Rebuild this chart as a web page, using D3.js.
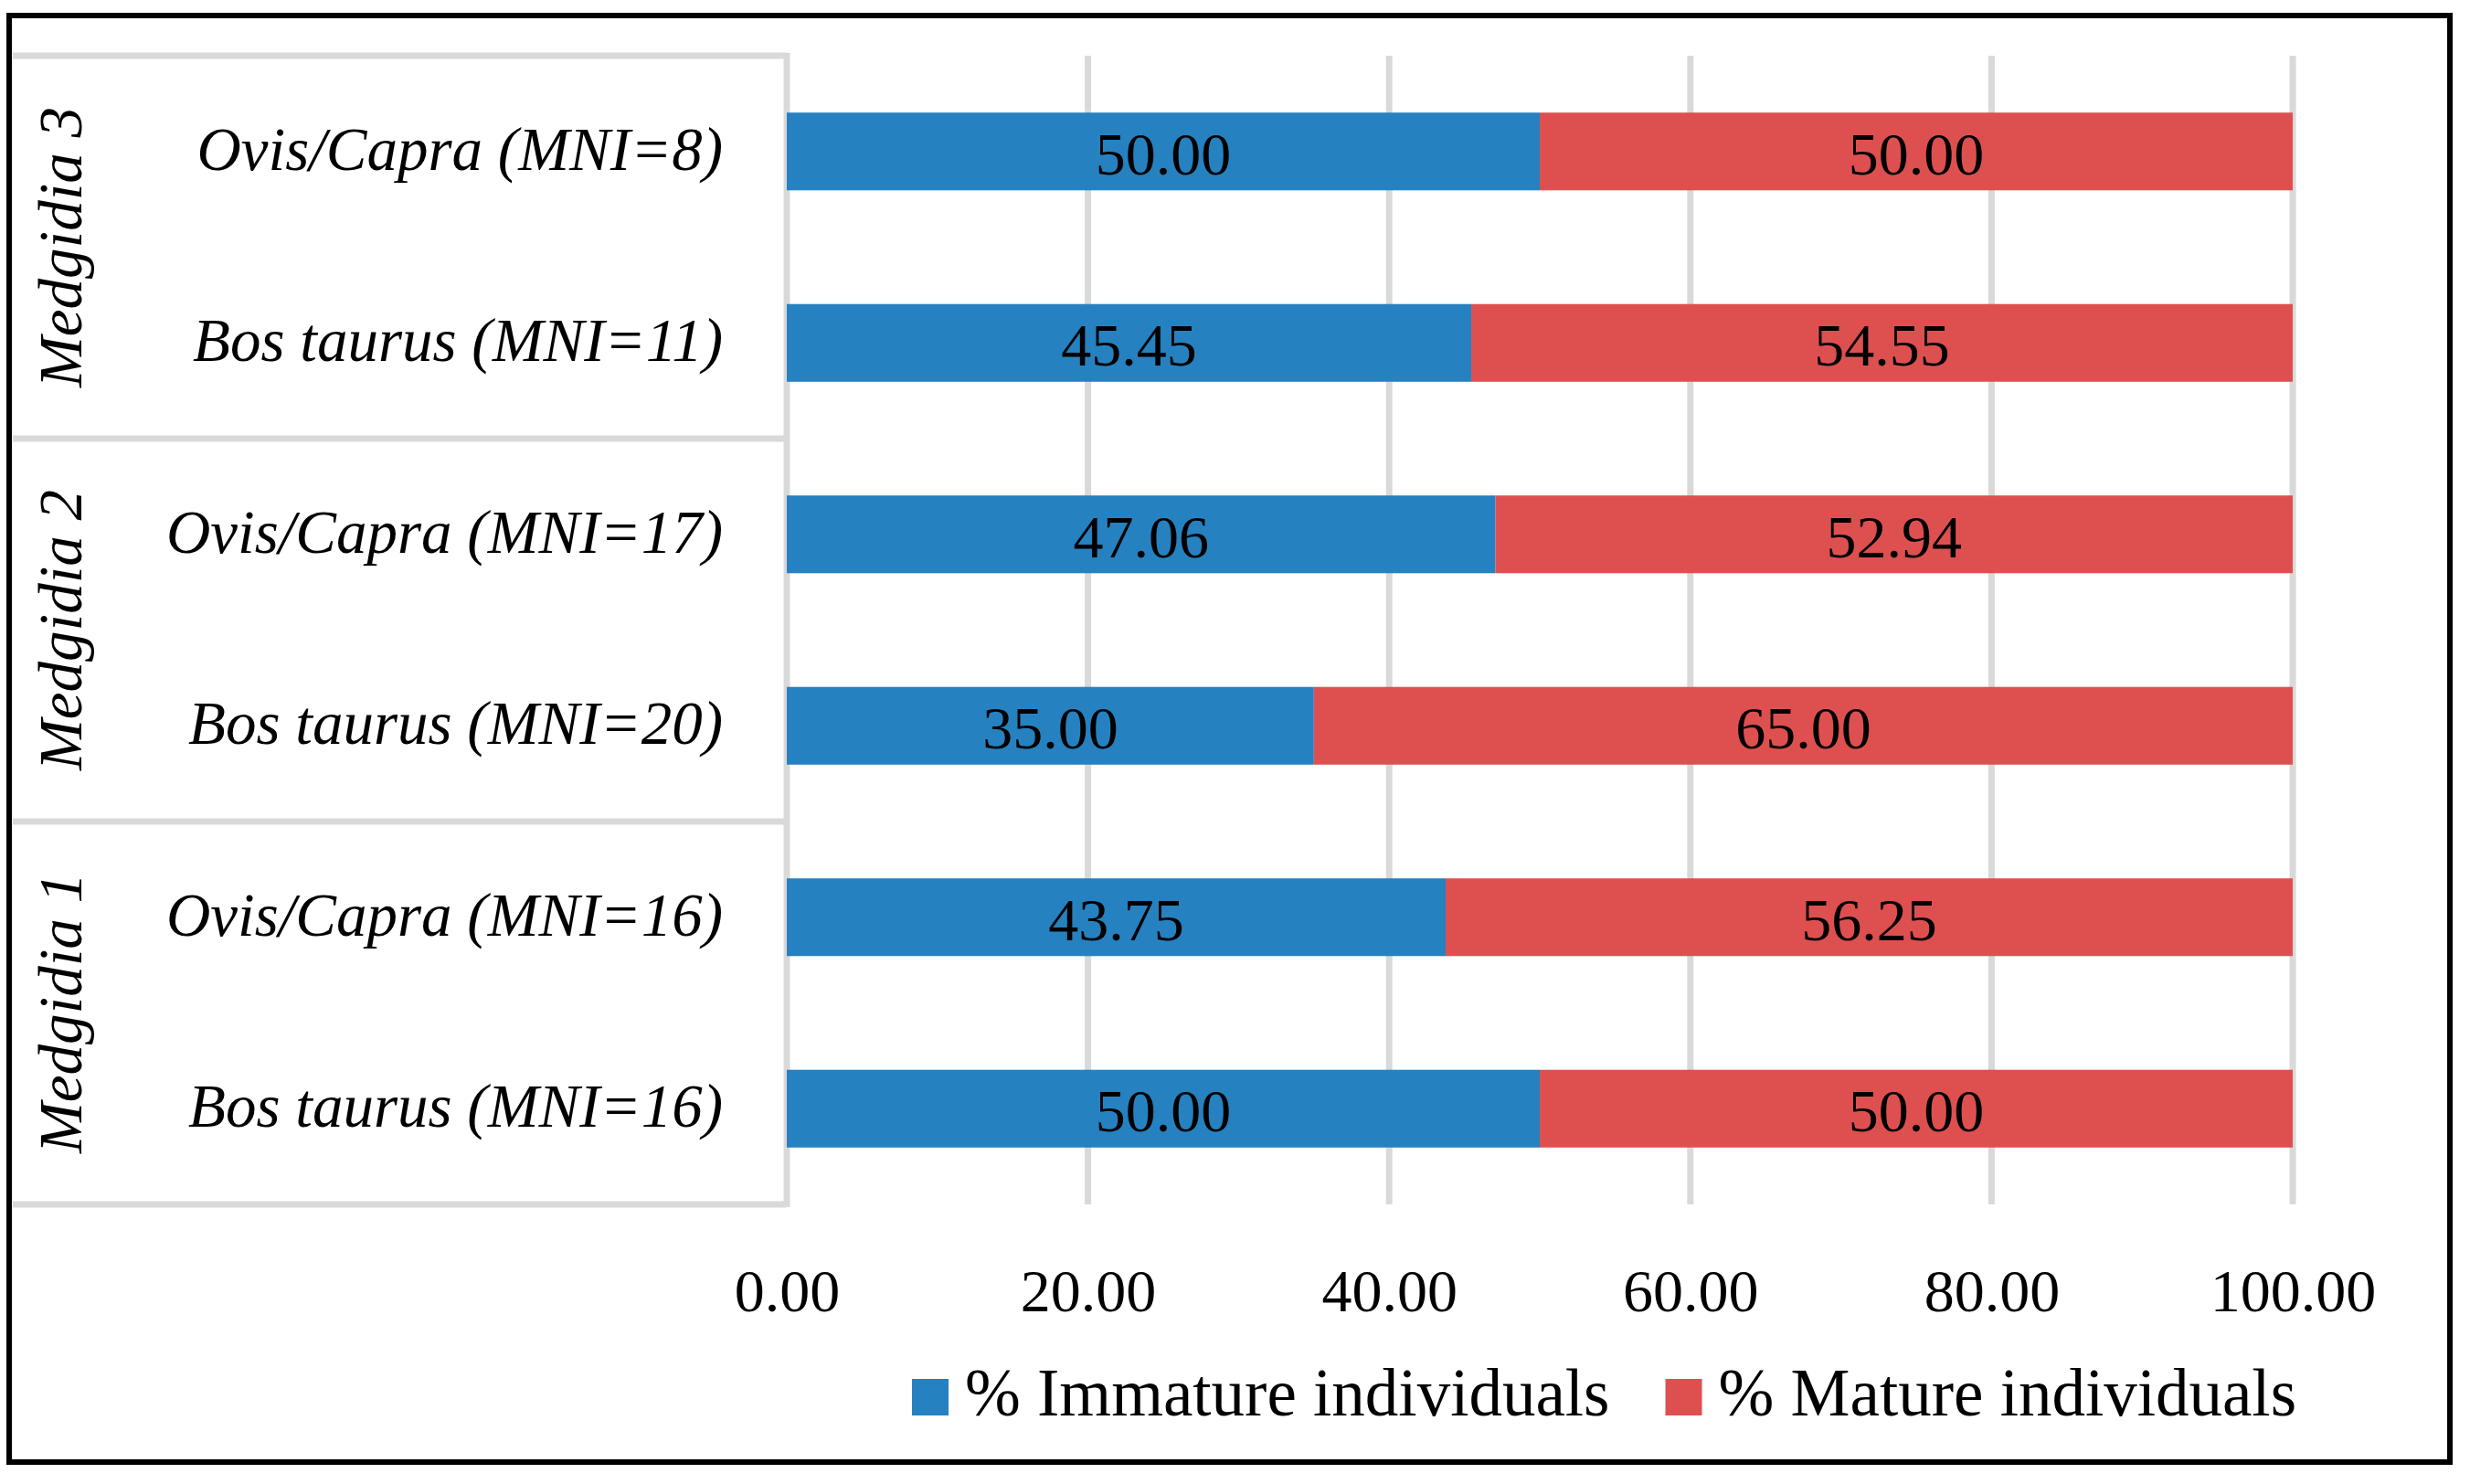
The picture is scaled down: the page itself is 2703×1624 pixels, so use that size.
<!DOCTYPE html>
<html>
<head>
    <meta charset="utf-8">
    <title>Immature vs mature individuals</title>
    <script src="https://d3js.org/d3.v7.min.js"></script>
    <style>
        body, html {
            margin: 0;
            padding: 0;
            background: #fff;
        }
        svg {
            display: block;
        }
        text {
            font-family: "Liberation Serif", serif;
            fill: #000;
        }
    </style>
</head>
<body>
    <svg width="2703" height="1624"></svg>
    <script>
        // data, listed top to bottom as in the chart
        const groups = ["Medgidia 3", "Medgidia 2", "Medgidia 1"];
        const categories = [
            "Ovis/Capra (MNI=8)", "Bos taurus (MNI=11)",
            "Ovis/Capra (MNI=17)", "Bos taurus (MNI=20)",
            "Ovis/Capra (MNI=16)", "Bos taurus (MNI=16)"
        ];
        const categoryGroup = ["Medgidia 3", "Medgidia 3", "Medgidia 2", "Medgidia 2", "Medgidia 1", "Medgidia 1"];
        const immature = [50.00, 45.45, 47.06, 35.00, 43.75, 50.00];
        const mature = [50.00, 54.55, 52.94, 65.00, 56.25, 50.00];
        const seriesNames = ["% Immature individuals", "% Mature individuals"];
        const seriesColors = ["#2681c0", "#de5050"];
        const xTicks = [0, 20, 40, 60, 80, 100];

        const svg = d3.select("svg");
        const gridColor = "#d9d9d9";

        const x = d3.scaleLinear().domain([0, 100]).range([861, 2509]);
        const y = d3.scaleBand().domain(d3.range(categories.length)).range([61, 1318]).paddingInner(0.594).paddingOuter(0.297);
        const band = (1318 - 61) / categories.length;

        // outer frame
        svg.append("rect")
            .attr("x", 10).attr("y", 17)
            .attr("width", 2671).attr("height", 1583)
            .attr("fill", "#fff")
            .attr("stroke", "#000")
            .attr("stroke-width", 6);

        // vertical gridlines
        svg.append("g")
            .selectAll("line")
            .data(xTicks.slice(1))
            .join("line")
            .attr("x1", d => x(d)).attr("x2", d => x(d))
            .attr("y1", 61).attr("y2", 1318)
            .attr("stroke", gridColor)
            .attr("stroke-width", 7);

        // multi-level category table lines
        const table = svg.append("g").attr("stroke", gridColor).attr("stroke-width", 7);
        d3.range(groups.length + 1).forEach(i => {
            const yy = 61 + i * band * 2;
            table.append("line")
                .attr("x1", 14).attr("x2", x(0))
                .attr("y1", yy).attr("y2", yy);
        });
        table.append("line")
            .attr("x1", x(0)).attr("x2", x(0))
            .attr("y1", 58).attr("y2", 1321);

        // stacked bars
        const rows = categories.map((c, i) => ({ i: i, immature: immature[i], mature: mature[i] }));
        const stack = d3.stack().keys(["immature", "mature"])(rows);

        const layers = svg.append("g")
            .selectAll("g")
            .data(stack)
            .join("g")
            .attr("fill", (d, k) => seriesColors[k]);

        layers.selectAll("rect")
            .data(d => d)
            .join("rect")
            .attr("x", d => x(d[0]))
            .attr("width", d => x(d[1]) - x(d[0]))
            .attr("y", d => y(d.data.i))
            .attr("height", y.bandwidth());

        // value labels
        layers.selectAll("text")
            .data(d => d)
            .join("text")
            .attr("x", d => (x(d[0]) + x(d[1])) / 2)
            .attr("y", d => y(d.data.i) + y.bandwidth() / 2 + 25)
            .attr("text-anchor", "middle")
            .attr("font-size", 66)
            .text(d => (d[1] - d[0]).toFixed(2));

        // category labels
        svg.append("g")
            .selectAll("text")
            .data(categories)
            .join("text")
            .attr("x", 791)
            .attr("y", (d, i) => y(i) + y.bandwidth() / 2 + 20)
            .attr("text-anchor", "end")
            .attr("font-size", 67)
            .attr("font-style", "italic")
            .text(d => d);

        // group labels, rotated
        svg.append("g")
            .selectAll("text")
            .data(groups)
            .join("text")
            .attr("transform", (d, i) => {
                const idx = categoryGroup.indexOf(d);
                const cy = 61 + band * (idx + 1);
                return `translate(89,${cy}) rotate(-90)`;
            })
            .attr("text-anchor", "middle")
            .attr("font-size", 67)
            .attr("font-style", "italic")
            .text(d => d);

        // x axis labels
        const xAxis = d3.axisBottom(x)
            .tickValues(xTicks)
            .tickSize(0)
            .tickPadding(0)
            .tickFormat(d => d.toFixed(2));

        const axisG = svg.append("g")
            .attr("transform", "translate(0,1435)")
            .call(xAxis);
        axisG.select(".domain").remove();
        axisG.selectAll("text")
            .attr("dy", 0)
            .attr("font-size", 66)
            .attr("font-family", "Liberation Serif, serif")
            .attr("fill", "#000");

        // legend
        const legend = svg.append("g");
        let lx = 998;
        seriesNames.forEach((name, k) => {
            legend.append("rect")
                .attr("x", lx).attr("y", 1509)
                .attr("width", 40).attr("height", 40)
                .attr("fill", seriesColors[k]);
            const t = legend.append("text")
                .attr("x", lx + 58)
                .attr("y", 1549)
                .attr("font-size", 73)
                .text(name);
            lx = lx + 58 + t.node().getComputedTextLength() + 61;
        });
    </script>
</body>
</html>
